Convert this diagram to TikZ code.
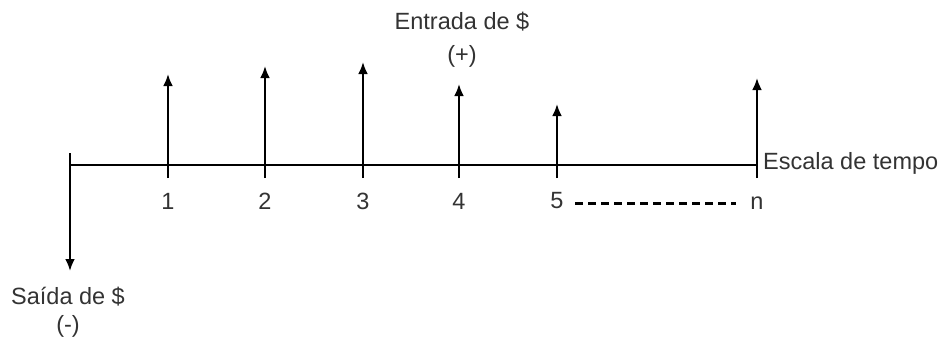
\documentclass[tikz,border=0pt]{standalone}
\usepackage{fontspec}
\setmainfont{Liberation Sans}
\usetikzlibrary{arrows.meta}
\begin{document}
\begin{tikzpicture}[x=1pt,y=-1pt,
  axisline/.style={line width=2.8pt, black},
  flow/.style={line width=2.8pt, black, -{Latex[length=12pt,width=10pt]}},
  lbl/.style={font=\fontsize{23.5}{26}\selectfont, text=black!80, inner sep=0pt},
  dashline/.style={line width=3pt, black, dash pattern=on 8pt off 5pt}]
\useasboundingbox (0,0) rectangle (947,338);
% axis
\coordinate (o) at (70,165);
\coordinate (e) at (757,165);
\draw[axisline] (o) -- (e);
% outflow
\coordinate (s0) at (70,153);
\coordinate (d0) at (70,271);
\draw[flow] (s0) -- (d0);
% inflows
\foreach \n/\x/\t in {1/168/74, 2/265/66, 3/363/62, 4/459/84, 5/557/104, n/757/78}{
  \coordinate (b\n) at (\x,178);
  \coordinate (t\n) at (\x,\t);
  \draw[flow] (b\n) -- (t\n);
}
% tick labels
\foreach \n/\x in {1/168, 2/265, 3/363, 4/459, 5/557}{
  \node[lbl] (l\n) at (\x,201) {\n};
}
\node[lbl] (ln) at (757,203) {n};
\coordinate (da) at (575,203);
\coordinate (db) at (736,203);
\draw[dashline] (da) -- (db);
% texts
\node[lbl] (ent) at (462,22) {Entrada de \$};
\node[lbl] (entp) at (462,56) {(+)};
\node[lbl] (sai) at (68,297) {Saída de \$};
\node[lbl] (saim) at (68,326) {(-)};
\node[lbl, anchor=west] (esc) at (763,163) {Escala de tempo};
\end{tikzpicture}
\end{document}
